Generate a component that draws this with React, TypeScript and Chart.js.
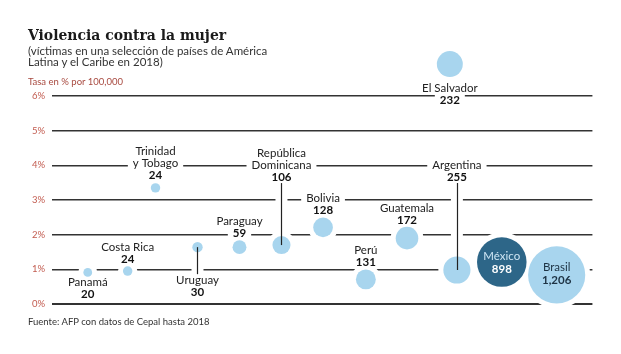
import React, { useEffect, useRef } from 'react';
import { Chart, registerables } from 'chart.js';

Chart.register(...registerables);

// ---- data ----
const countries = ['Panamá', 'Costa Rica', 'Trinidad y Tobago', 'Uruguay', 'Paraguay', 'República Dominicana', 'Bolivia', 'Perú', 'Guatemala', 'Argentina', 'El Salvador', 'México', 'Brasil'];
const nameLines = [['Panamá'], ['Costa Rica'], ['Trinidad', 'y Tobago'], ['Uruguay'], ['Paraguay'], ['República', 'Dominicana'], ['Bolivia'], ['Perú'], ['Guatemala'], ['Argentina'], ['El Salvador'], ['México'], ['Brasil']];
const victims = [20, 24, 24, 30, 59, 106, 128, 131, 172, 255, 232, 898, 1206];
const victimLabels = ['20', '24', '24', '30', '59', '106', '128', '131', '172', '255', '232', '898', '1,206'];
const rates = [0.91, 0.95, 3.35, 1.64, 1.64, 1.70, 2.21, 0.71, 1.90, 0.98, 6.92, 1.21, 0.84];
const xSlot = [0.86, 1.82, 2.49, 3.5, 4.51, 5.52, 6.52, 7.55, 8.54, 9.74, 9.57, 10.82, 12.14];
const yTicks = [0, 1, 2, 3, 4, 5, 6];

// ---- styles ----
type Side = 'above' | 'below' | 'inside';
const labelStyle: { side: Side; offset: number; leader?: boolean }[] = [
  { side: 'below', offset: 10 },
  { side: 'above', offset: 12 },
  { side: 'above', offset: 13 },
  { side: 'below', offset: 33, leader: true },
  { side: 'above', offset: 14 },
  { side: 'above', offset: 68, leader: true },
  { side: 'above', offset: 17 },
  { side: 'above', offset: 17 },
  { side: 'above', offset: 18 },
  { side: 'above', offset: 93, leader: true },
  { side: 'below', offset: 24 },
  { side: 'inside', offset: -6 },
  { side: 'inside', offset: -8 },
];
const LIGHT = '#a8d5ee';
const DARK = '#2d6688';
const FONT = 'Lato, "Open Sans", sans-serif';
const NAME_FONT = `11.5px ${FONT}`;
const NUM_FONT = `bold 11.5px ${FONT}`;
const LINE_H = 12;

const radiusOf = (v: number) => 0.8 + 0.8 * Math.sqrt(v);

function layoutLabel(i: number, x: number, y: number) {
  const st = labelStyle[i];
  const texts = [...nameLines[i].map((t) => ({ text: t, bold: false })), { text: victimLabels[i], bold: true }];
  const n = texts.length;
  const step = st.side === 'inside' ? 13 : LINE_H;
  let firstY: number;
  if (st.side === 'above') firstY = y - st.offset - (n - 1) * step;
  else firstY = y + st.offset;
  const lines = texts.map((t, k) => ({ ...t, y: firstY + k * step }));
  let leaderEnd: number | null = null;
  if (st.leader) {
    leaderEnd = st.side === 'above' ? lines[n - 1].y + 6 : lines[0].y - 6;
  }
  return { lines, leaderEnd, side: st.side };
}

const labelPlugin = {
  id: 'countryLabels',
  beforeDatasetsDraw(chart: any) {
    const ctx = chart.ctx as CanvasRenderingContext2D;
    const meta = chart.getDatasetMeta(0);
    ctx.save();
    ctx.fillStyle = '#ffffff';
    ctx.strokeStyle = '#ffffff';
    meta.data.forEach((el: any, i: number) => {
      const { x, y } = el;
      const r = radiusOf(victims[i]);
      ctx.beginPath();
      ctx.arc(x, y, r + 5, 0, Math.PI * 2);
      ctx.fill();
      const L = layoutLabel(i, x, y);
      if (L.side !== 'inside') {
        L.lines.forEach((ln) => {
          ctx.font = ln.bold ? NUM_FONT : NAME_FONT;
          const w = ctx.measureText(ln.text).width;
          ctx.fillRect(x - w / 2 - 5, ln.y - 6.5, w + 10, 13);
        });
      }
      if (L.leaderEnd !== null) {
        ctx.lineWidth = 12;
        ctx.beginPath();
        ctx.moveTo(x, y);
        ctx.lineTo(x, L.leaderEnd);
        ctx.stroke();
      }
    });
    ctx.restore();
  },
  afterDatasetsDraw(chart: any) {
    const ctx = chart.ctx as CanvasRenderingContext2D;
    const meta = chart.getDatasetMeta(0);
    ctx.save();
    ctx.textAlign = 'center';
    ctx.textBaseline = 'middle';
    meta.data.forEach((el: any, i: number) => {
      const { x, y } = el;
      const L = layoutLabel(i, x, y);
      if (L.leaderEnd !== null) {
        ctx.strokeStyle = '#222';
        ctx.lineWidth = 1.2;
        ctx.beginPath();
        ctx.moveTo(Math.round(x) + 0.5, y);
        ctx.lineTo(Math.round(x) + 0.5, L.leaderEnd);
        ctx.stroke();
      }
      L.lines.forEach((ln) => {
        ctx.font = ln.bold ? NUM_FONT : NAME_FONT;
        if (i === 11) ctx.fillStyle = ln.bold ? '#ffffff' : '#cfe6f4';
        else if (i === 12) ctx.fillStyle = '#1d3344';
        else ctx.fillStyle = ln.bold ? '#111' : '#222';
        ctx.fillText(ln.text, x, ln.y);
      });
    });
    ctx.restore();
  },
};

export default function App() {
  const ref = useRef<HTMLCanvasElement | null>(null);
  useEffect(() => {
    if (!ref.current) return;
    const chart = new Chart(ref.current, {
      type: 'bubble',
      data: {
        datasets: [
          {
            data: countries.map((c, i) => ({ x: xSlot[i], y: rates[i], r: radiusOf(victims[i]) })),
            backgroundColor: countries.map((c, i) => (i === 11 ? DARK : LIGHT)),
            borderWidth: 0,
            clip: false as any,
          },
        ],
      },
      options: {
        responsive: false,
        animation: false,
        events: [],
        layout: { padding: { left: 0, right: 27, top: 44, bottom: 50 } },
        plugins: { legend: { display: false }, tooltip: { enabled: false } },
        scales: {
          x: { type: 'linear', min: 0, max: 13, display: false },
          y: {
            type: 'linear',
            min: 0,
            max: 7.5,
            afterFit: (s: any) => {
              s.width = 52;
            },
            afterBuildTicks: (s: any) => {
              s.ticks = yTicks.map((v) => ({ value: v }));
            },
            ticks: {
              padding: 7,
              color: '#c25c50',
              font: { family: FONT, size: 9.5 },
              callback: (v: any) => `${v}%`,
            },
            grid: {
              drawTicks: false,
              color: '#333333',
              lineWidth: (c: any) => (c.tick && c.tick.value === 0 ? 2 : 1.4),
            },
            border: { display: false },
          },
        },
      },
      plugins: [labelPlugin],
    });
    return () => chart.destroy();
  }, []);

  const base: React.CSSProperties = { position: 'absolute', left: 28, whiteSpace: 'nowrap', margin: 0 };
  return (
    <div style={{ position: 'absolute', left: 0, top: 0, width: 621, height: 354, background: '#fff', overflow: 'hidden' }}>
      <canvas ref={ref} width={621} height={354} style={{ position: 'absolute', left: 0, top: 0, width: 621, height: 354 }} />
      <div style={{ ...base, top: 25.5, fontFamily: '"DejaVu Serif Condensed", "DejaVu Serif", serif', fontWeight: 'bold', fontSize: 15.5, lineHeight: '18px', color: '#1a1a1a' }}>
        Violencia contra la mujer
      </div>
      <div style={{ ...base, top: 44.8, fontFamily: FONT, fontSize: 11.5, lineHeight: '11.5px', color: '#333' }}>
        (víctimas en una selección de países de América
        <br />
        Latina y el Caribe en 2018)
      </div>
      <div style={{ ...base, top: 76.8, fontFamily: FONT, fontSize: 9.5, lineHeight: '10px', color: '#a84a40' }}>
        Tasa en % por 100,000
      </div>
      <div style={{ ...base, top: 317.3, fontFamily: FONT, fontSize: 9.5, lineHeight: '10px', color: '#333' }}>
        Fuente: AFP con datos de Cepal hasta 2018
      </div>
    </div>
  );
}
